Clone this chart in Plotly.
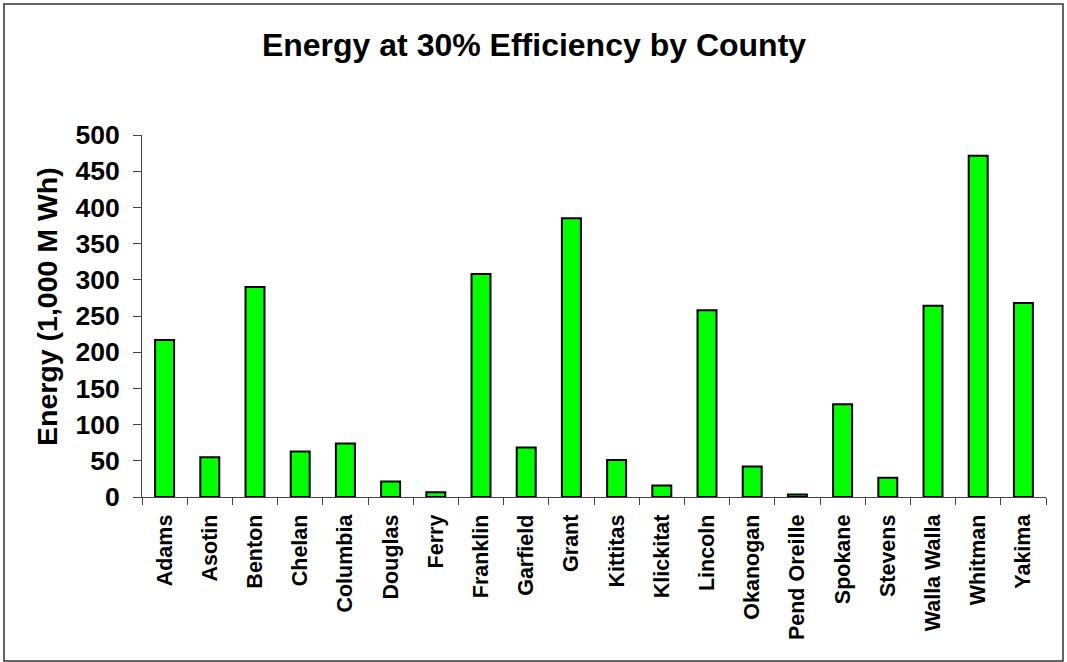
import plotly.graph_objects as go

counties = ["Adams", "Asotin", "Benton", "Chelan", "Columbia", "Douglas", "Ferry",
            "Franklin", "Garfield", "Grant", "Kittitas", "Klickitat", "Lincoln",
            "Okanogan", "Pend Oreille", "Spokane", "Stevens", "Walla Walla",
            "Whitman", "Yakima"]
energy = [217, 55, 290, 63, 74, 21.5, 6.5, 308, 68.5, 385, 51, 16, 258, 42,
          3.6, 128, 26.6, 264, 471.5, 268]
y_ticks = [0, 50, 100, 150, 200, 250, 300, 350, 400, 450, 500]

W, H = 1067, 662
L, R, T, B = 142, 21, 135, 165
pw, ph = W - L - R, H - T - B

FONT = "Liberation Sans, Arial, sans-serif"

fig = go.Figure(go.Bar(
    x=counties, y=energy,
    marker=dict(color="#00FF00", line=dict(color="black", width=2)),
))

fig.update_layout(
    width=W, height=H,
    margin=dict(l=L, r=R, t=T, b=B, pad=0),
    paper_bgcolor="white", plot_bgcolor="white",
    bargap=0.58,
    showlegend=False,
    font=dict(family=FONT, color="black"),
    title=dict(text="<b>Energy at 30% Efficiency by County</b>",
               x=(534) / W, xanchor="center", xref="container",
               y=1 - 45 / H, yanchor="middle", yref="container",
               font=dict(size=32, family=FONT, color="black")),
    xaxis=dict(
        type="category", tickson="boundaries", ticks="outside", ticklen=7,
        tickcolor="#444", showline=True, linecolor="#444", linewidth=1,
        tickangle=-90,
        tickfont=dict(size=21.5, family=FONT, color="black", weight="bold"),
        showgrid=False, range=[-0.5, len(counties) - 0.5],
        ticklabelstandoff=8,
    ),
    yaxis=dict(
        range=[0, 500], tickvals=y_ticks, ticks="outside", ticklen=8,
        tickcolor="#444", showline=True, linecolor="#444", linewidth=1,
        tickfont=dict(size=26.5, family=FONT, color="black", weight="bold"),
        showgrid=False, zeroline=False, ticklabelstandoff=8,
    ),
    annotations=[dict(
        text="<b>Energy (1,000 M Wh)</b>", textangle=-90,
        xref="paper", yref="paper", x=(47 - L) / pw, y=(497 - 307) / ph,
        xanchor="center", yanchor="middle", showarrow=False,
        font=dict(size=28.5, family=FONT, color="black"),
    )],
    shapes=[dict(
        type="rect", xref="paper", yref="paper",
        x0=(4 - L) / pw, x1=(1063 - L) / pw,
        y0=(497 - 661) / ph, y1=(497 - 4) / ph,
        line=dict(color="#333", width=1.5), fillcolor="rgba(0,0,0,0)",
        layer="below",
    )],
)

fig.write_html("out.html")
